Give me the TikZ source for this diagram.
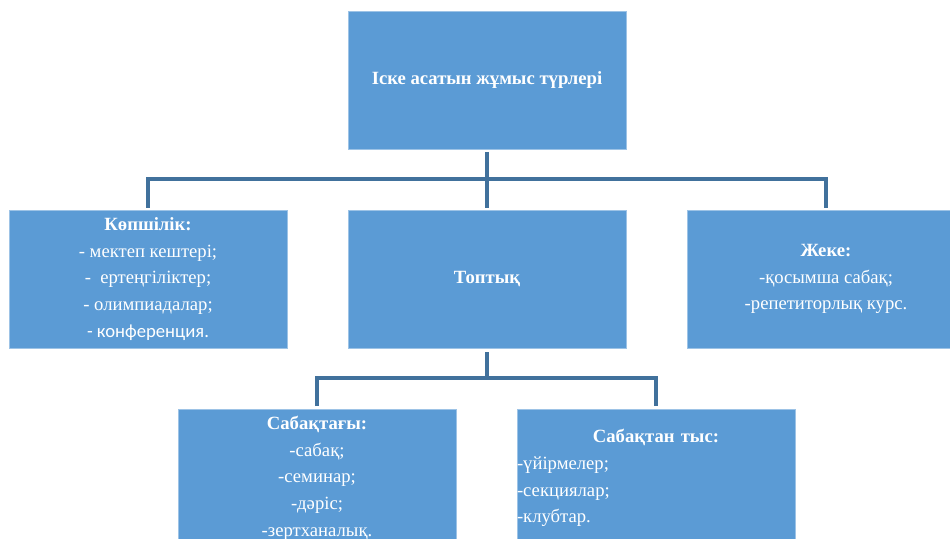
\documentclass[tikz,border=0pt]{standalone}
\usepackage{fontspec}
\setmainfont{Liberation Serif}
\newfontfamily\calibrilike{Carlito}
\usepackage{tikz}
\definecolor{boxblue}{RGB}{91,155,213}
\definecolor{lineblue}{RGB}{65,113,156}
\tikzset{
  box/.style={rectangle, fill=boxblue, draw=boxblue!60!white, line width=0.4pt,
    minimum width=208.5pt, minimum height=103.5pt, inner sep=0pt,
    text=white, align=center, font=\fontsize{14}{20}\selectfont},
  conn/.style={draw=lineblue, line width=2.6pt}
}

\begin{document}
\begin{tikzpicture}[x=0.75pt,y=-0.75pt]
	\useasboundingbox (0,0) rectangle (950,539);
	\node[box] (turleri) at (487,80) {\textbf{Іске асатын жұмыс түрлері}};
	\node[box] (kopshilik) at (148,279) {\textbf{Көпшілік:}\\- мектеп кештері;\\-\ \ ертеңгіліктер;\\- олимпиадалар;\\{\calibrilike - конференция.}};
	\node[box] (toptyq) at (487,279) {\textbf{Топтық}};
	\node[box] (zheke) at (826,279) {\textbf{Жеке:}\\-қосымша сабақ;\\-репетиторлық курс.};
	\node[box] (sabaqtagy) at (317,478) {\textbf{Сабақтағы:}\\-сабақ;\\-семинар;\\-дәріс;\\-зертханалық.};
	\node[box, text width=208.5pt, align=left] (sabaqtan) at (656,478) {\makebox[\linewidth]{\bfseries Сабақтан тыс:}\\-үйірмелер;\\-секциялар;\\-клубтар.};
	\coordinate (bus1) at (487,179);
	\coordinate (bus2) at (487,378);
	\draw[conn] ([yshift=-2pt]turleri.south) -- ([yshift=1.5pt]toptyq.north);
	\draw[conn] ([yshift=1.5pt]kopshilik.north) |- (bus1) -| ([yshift=1.5pt]zheke.north);
	\draw[conn] ([yshift=-3pt]toptyq.south) -- (bus2);
	\draw[conn] ([yshift=2pt]sabaqtagy.north) |- (bus2) -| ([yshift=2pt]sabaqtan.north);
\end{tikzpicture}
\end{document}
